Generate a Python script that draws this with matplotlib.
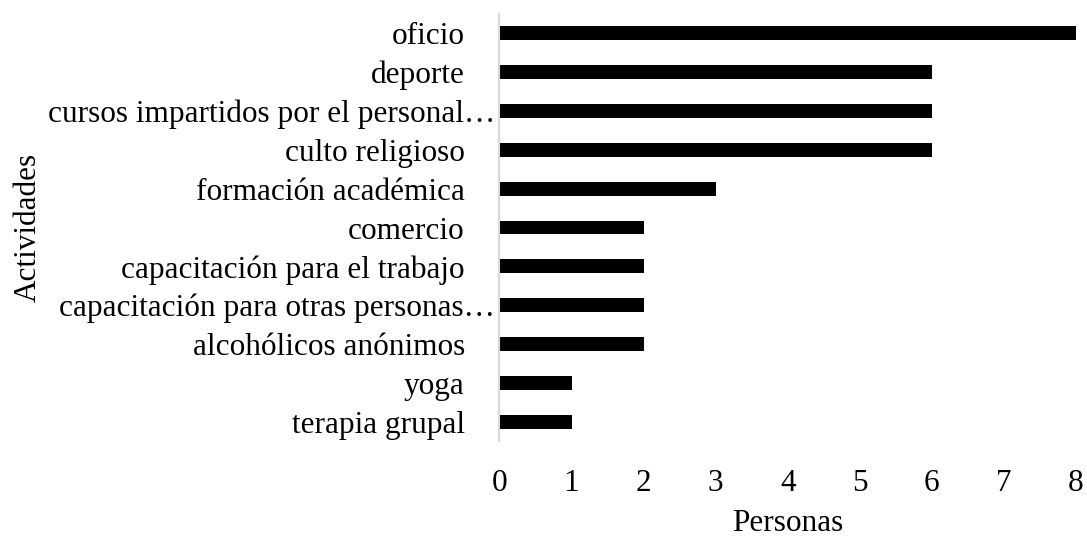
import matplotlib
matplotlib.use("Agg")
import matplotlib.pyplot as plt
import matplotlib.transforms as mtransforms

categories = ["oficio", "deporte", "cursos impartidos por el personal…", "culto religioso",
              "formación académica", "comercio", "capacitación para el trabajo",
              "capacitación para otras personas…", "alcohólicos anónimos", "yoga", "terapia grupal"]
values = [8, 6, 6, 6, 3, 2, 2, 2, 2, 1, 1]
xticks = [0, 1, 2, 3, 4, 5, 6, 7, 8]

plt.rcParams['font.family'] = ['Liberation Serif', 'DejaVu Serif']
FS = 22.5

fig = plt.figure(figsize=(10.87, 5.37), dpi=100)
ax = fig.add_axes([0.4595, 0.1788, 0.5304, 0.7951])

ypos = list(range(len(categories)))
ax.barh(ypos, values, height=0.36, color='black')
ax.set_ylim(len(categories) - 0.5, -0.5)
ax.set_xlim(0, 8)
ax.set_yticks(ypos)
ax.set_yticklabels(categories, fontsize=FS)
ax.set_xticks(xticks)
ax.set_xticklabels([str(t) for t in xticks], fontsize=FS)
ax.tick_params(axis='y', length=0, pad=25)
ax.tick_params(axis='x', length=0, pad=20)

for lab in ax.get_yticklabels():
    if lab.get_text().endswith("…"):
        lab.set_transform(lab.get_transform() + mtransforms.ScaledTranslation(30/100, 0, fig.dpi_scale_trans))

for s in ['top', 'right', 'bottom']:
    ax.spines[s].set_visible(False)
ax.spines['left'].set_color('#d9d9d9')
ax.spines['left'].set_linewidth(1.5)

ax.set_xlabel("Personas", fontsize=FS)
ax.set_ylabel("Actividades", fontsize=FS)
ax.yaxis.set_label_coords(-0.793, 0.5)
ax.xaxis.set_label_coords(0.5, -0.16)

fig.savefig("out.png", dpi=100)
